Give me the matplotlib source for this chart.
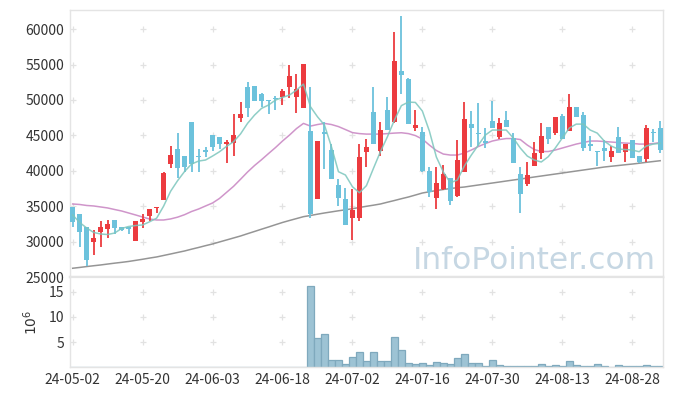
import numpy as np
import matplotlib
matplotlib.use('Agg')
import matplotlib.pyplot as plt

plt.rcParams['font.family'] = ['Noto Sans CJK KR', 'DejaVu Sans']

# daily candles, 2024-05-02 .. 2024-09-03 (trading days)
opens = [34900, 33850, 32000, 29950, 31400, 31800, 33050, 32000, 32050, 30150,
         32750, 33600, 34750, 35850, 40950, 43050, 42100, 46900, 42100, 42900,
         45050, 44800, 43800, 43950, 47500, 51800, 51950, 50850, 50000, 50300,
         50350, 51850, 50450, 48900, 45600, 36050, 45450, 42950, 38000, 36000,
         33350, 33300, 42700, 48350, 42850, 48550, 46900, 54050, 52950, 46050,
         45450, 39950, 36200, 37400, 39000, 36500, 39800, 46600, 45350, 44200,
         47000, 44800, 47150, 44600, 39500, 38150, 40650, 42450, 46150, 45350,
         47700, 45650, 48950, 47850, 43850, 42800, 43150, 42000, 44700, 42700,
         44350, 42100, 41700, 45500, 46000]
highs = [34900, 33850, 32000, 31650, 32900, 33000, 33050, 32000, 32050, 32900,
         33850, 34600, 34950, 39850, 43500, 45300, 42100, 46900, 43050, 43400,
         45050, 44800, 44350, 47950, 49650, 52500, 51950, 51000, 50000, 50550,
         51550, 55000, 53600, 55050, 51850, 44200, 46900, 43750, 38800, 37600,
         37400, 43750, 44450, 51850, 46850, 50350, 59550, 61850, 53150, 48550,
         46150, 40550, 40550, 40800, 39000, 44350, 49650, 48450, 49500, 46050,
         49900, 47400, 48450, 45300, 40500, 41200, 44050, 46700, 46150, 47550,
         47950, 50900, 48950, 48250, 44900, 42800, 44350, 43550, 46150, 43850,
         44350, 42100, 46450, 45850, 47000]
lows = [32100, 29300, 26600, 28050, 29300, 30550, 31050, 31500, 31050, 30150,
        31950, 32950, 34000, 35850, 40350, 38950, 39850, 39850, 39850, 42000,
        42850, 43050, 41050, 42100, 46850, 47550, 49800, 49050, 48000, 48550,
        49300, 50300, 48100, 48900, 33300, 36050, 40200, 38850, 35000, 32350,
        30250, 32900, 40550, 43850, 42100, 45750, 46700, 50900, 46600, 45650,
        39800, 36350, 34600, 37300, 35150, 36350, 39800, 43400, 43500, 43250,
        46050, 44500, 46200, 41150, 34000, 37850, 40650, 41600, 43850, 45050,
        44450, 45650, 47550, 42800, 42800, 40650, 41400, 41200, 42550, 41200,
        41850, 41100, 41300, 44100, 42550]
closes = [32800, 31400, 27400, 30500, 32000, 32500, 31950, 31650, 31800, 32900,
          33150, 34600, 34950, 39700, 42200, 40450, 40550, 40950, 41900, 42700,
          43400, 43750, 44050, 45050, 48000, 48900, 49900, 49900, 49850, 50100,
          51250, 53350, 51500, 55050, 33900, 44200, 45200, 38850, 36200, 32350,
          34450, 42000, 43400, 43850, 45750, 45750, 55500, 53500, 46600, 46450,
          39950, 36950, 38250, 39550, 35750, 41500, 47300, 46000, 45150, 43950,
          46050, 46700, 46200, 41150, 36700, 39350, 42450, 44900, 44450, 47550,
          44450, 48950, 47550, 43250, 43550, 42600, 42800, 42800, 42550, 43750,
          41850, 41300, 46000, 45300, 42900]

ma_short = [33760, 32700, 31920, 31290, 31070, 31000, 31210, 31850, 32130, 32270,
            32350, 32800, 33300, 35000, 37100, 38600, 39900, 40950, 41370, 41520,
            42080, 42690, 43450, 44100, 45200, 46690, 47860, 48810, 49280, 49980,
            50360, 50690, 51390, 52240, 49040, 47630, 46450, 43390, 39870, 39400,
            37750, 36900, 37900, 40330, 42690, 44800, 47160, 49200, 49700, 49650,
            48430, 45610, 41940, 39820, 38310, 38690, 40670, 42220, 43630, 45040,
            45750, 45750, 45750, 44620, 43210, 42080, 41520, 41240, 41990, 43210,
            44620, 46030, 46590, 46590, 45750, 45320, 44200, 43490, 43070, 43000,
            42930, 42690, 43490, 43770, 43870]
ma_mid = [35310, 35240, 35100, 35030, 34890, 34750, 34530, 34320, 34040, 33760,
          33470, 33190, 33050, 33050, 33200, 33450, 33800, 34250, 34600, 35030,
          35450, 36100, 36950, 37800, 38800, 39820, 40740, 41560, 42430, 43280,
          44200, 45040, 45960, 46690, 46310, 46530, 46690, 46530, 46240, 45820,
          45390, 45250, 45180, 45180, 45180, 45250, 45320, 45370, 45250, 44970,
          44480, 43630, 42860, 42360, 42220, 42220, 42500, 42930, 43420, 43840,
          44200, 44410, 44550, 44550, 44410, 43630, 43000, 42720, 42720, 42930,
          43210, 43490, 43770, 43980, 44200, 44200, 44130, 44060, 43980, 43910,
          43870, 43770, 43770, 43840, 43980]
ma_long = [26235, 26350, 26475, 26590, 26700, 26830, 26955, 27070, 27195, 27350,
           27505, 27675, 27830, 28040, 28250, 28465, 28675, 28930, 29170, 29425,
           29665, 29950, 30230, 30510, 30790, 31115, 31430, 31750, 32060, 32385,
           32700, 32980, 33250, 33520, 33685, 33870, 34040, 34195, 34350, 34490,
           34645, 34815, 34985, 35140, 35310, 35560, 35800, 36055, 36295, 36575,
           36860, 37040, 37210, 37355, 37495, 37610, 37705, 37850, 37990, 38130,
           38270, 38410, 38555, 38695, 38835, 38975, 39120, 39260, 39400, 39540,
           39680, 39825, 39965, 40105, 40245, 40385, 40530, 40640, 40740, 40850,
           40950, 41065, 41190, 41305, 41420]

# volume in millions (zero before late June)
volume = [0] * 34 + [16.1, 5.75, 6.55, 1.39, 1.39, 0.6, 1.98, 2.98, 1.19, 2.98,
                     1.19, 1.19, 5.95, 3.37, 0.79, 0.6, 0.79, 0.4, 0.99, 0.79,
                     0.6, 1.79, 2.58, 0.79, 0.79, 0.2, 1.39, 0.4, 0.2, 0.2,
                     0.2, 0.2, 0.2, 0.6, 0.2, 0.4, 0.2, 1.19, 0.4, 0.2,
                     0.2, 0.6, 0.2, 0.05, 0.4, 0.2, 0.2, 0.2, 0.4, 0.2, 0.2]

tick_labels = ['24-05-02', '24-05-20', '24-06-03', '24-06-18', '24-07-02',
               '24-07-16', '24-07-30', '24-08-13', '24-08-28']

UP = '#ec3b3f'
DOWN = '#6cc2dc'
GRID = '#e2e2e2'
SPINE = '#e4e4e4'

x = np.arange(len(opens))
o = np.array(opens); c = np.array(closes)
colors = [UP if cc > oo else DOWN for oo, cc in zip(o, c)]

fig = plt.figure(figsize=(6.73, 3.96), dpi=100)
ax = fig.add_axes([0.1033, 0.3005, 0.8818, 0.6742])
axv = fig.add_axes([0.1033, 0.0725, 0.8818, 0.228], sharex=ax)

# candles
ax.vlines(x, lows, highs, colors=colors, linewidth=1.3, zorder=3)
body = np.maximum(np.abs(c - o), 150)
ax.bar(x, body, bottom=np.minimum(o, c), width=0.74, color=colors, linewidth=0, zorder=4)

ax.plot(x, ma_long, color='#8a8a8a', linewidth=1.1, alpha=0.9, zorder=2)
ax.plot(x, ma_mid, color='#c783c1', linewidth=1.1, alpha=0.85, zorder=2)
ax.plot(x, ma_short, color='#7cc6bd', linewidth=1.1, alpha=0.85, zorder=5)

xticks = np.arange(0, len(x), 10)
ax.set_xlim(-0.45, len(x) - 0.6)
ax.set_ylim(25000, 62700)
yticks = np.arange(25000, 60001, 5000)
ax.set_yticks(yticks)
gx, gy = np.meshgrid(xticks, yticks[1:])
ax.plot(gx.ravel(), gy.ravel(), '+', color=GRID, ms=4.5, mew=0.9, zorder=0)

ax.text(0.988, 0.03, 'InfoPointer.com', transform=ax.transAxes, ha='right', va='baseline',
        fontsize=22.5, color='#c6d7e3', family='DejaVu Sans', zorder=1)

# volume
axv.bar(x, volume, width=1.0, color='#9dc3d4', edgecolor='#7fa9bd', linewidth=0.9)
axv.set_ylim(0, 17.9)
axv.set_yticks([5, 10, 15])
vx, vy = np.meshgrid(xticks, [5, 10, 15])
axv.plot(vx.ravel(), vy.ravel(), '+', color=GRID, ms=4.5, mew=0.9, zorder=0)
axv.set_ylabel('$10^6$', fontsize=10, color='#333333', labelpad=6)

axv.set_xticks(xticks)
axv.set_xticklabels(tick_labels)
plt.setp(ax.get_xticklabels(), visible=False)

for a in (ax, axv):
    a.tick_params(length=0, labelsize=10, colors='#333333', pad=4)
    for s in a.spines.values():
        s.set_color(SPINE)
        s.set_linewidth(1.0)
ax.spines['bottom'].set_linewidth(1.6)
axv.spines['top'].set_linewidth(1.6)
ax.spines['bottom'].set_color('#dcdcdc')

fig.savefig('out.png', dpi=100)
